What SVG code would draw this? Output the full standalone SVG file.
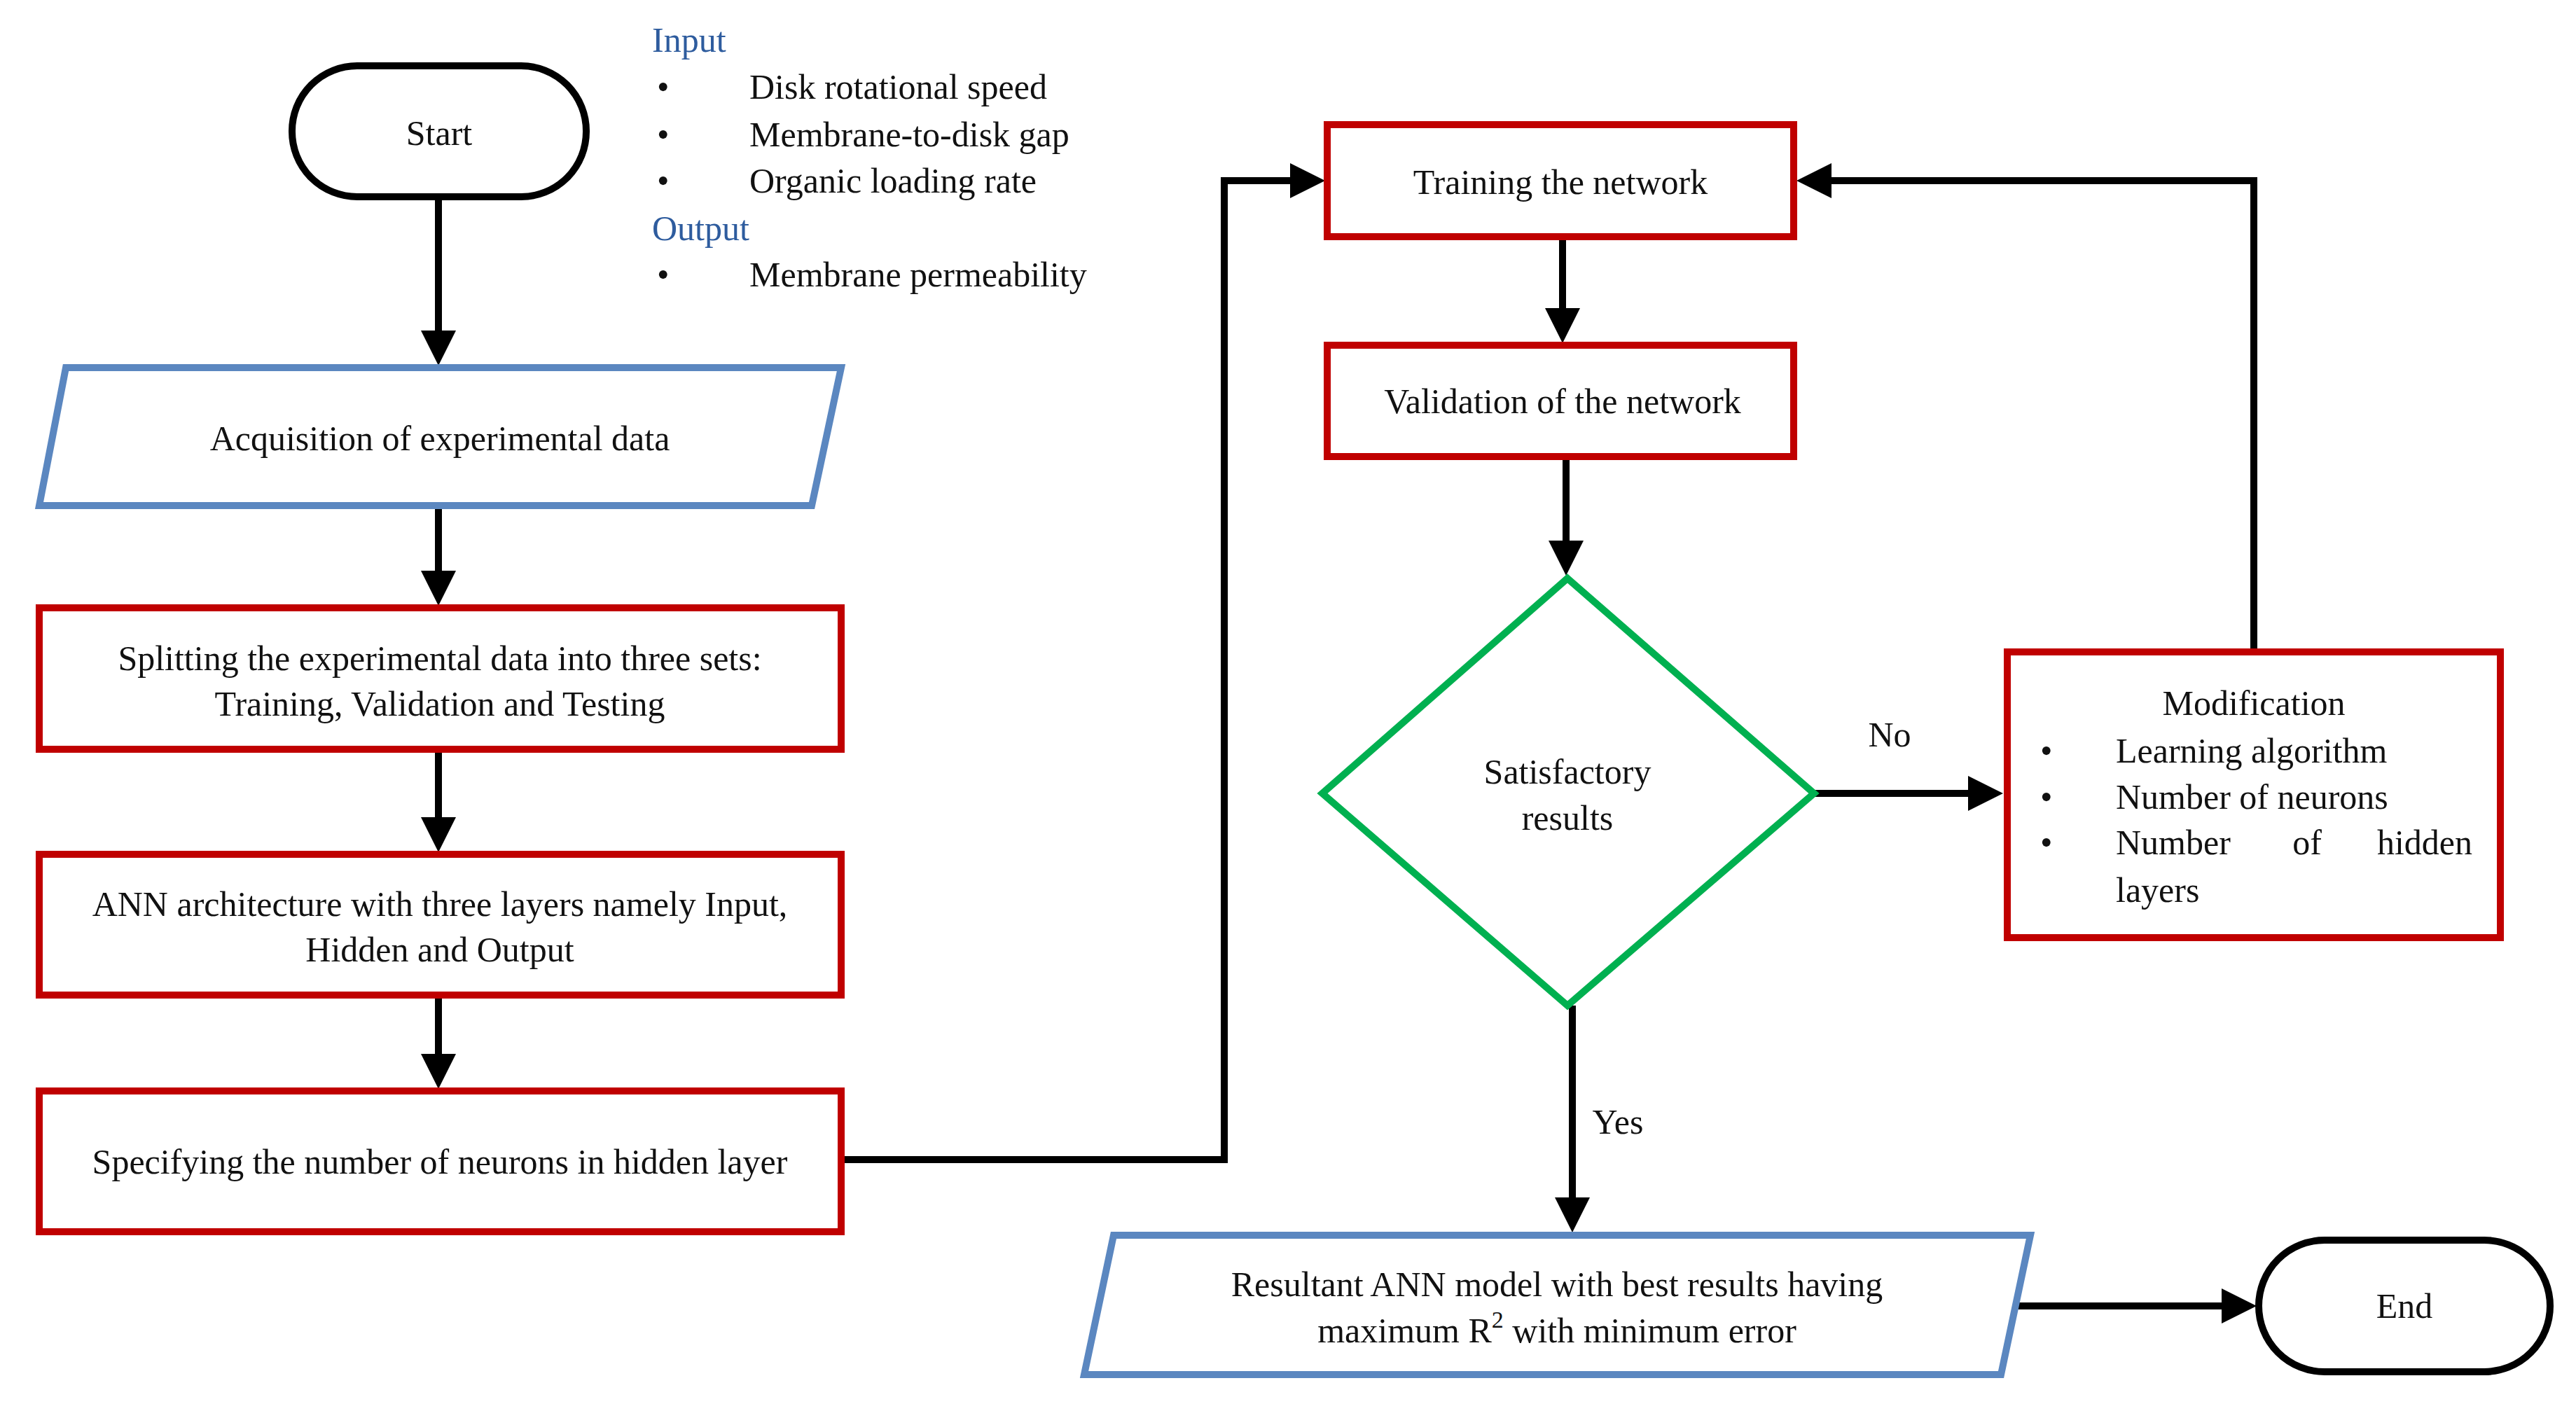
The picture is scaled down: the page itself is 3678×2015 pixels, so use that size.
<svg xmlns="http://www.w3.org/2000/svg" width="3678" height="2015" viewBox="0 0 3678 2015">
<style>
text{font-family:"Liberation Serif","Times New Roman",serif;font-size:50px;fill:#111;dominant-baseline:central}
.c{text-anchor:middle}
.lbl{fill:#2E5C9E}
.red{fill:#fff;stroke:#C00000;stroke-width:10}
.blue{fill:#fff;stroke:#5B87C0;stroke-width:10}
.term{fill:#fff;stroke:#000;stroke-width:10}
.grn{fill:#fff;stroke:#00B050;stroke-width:10}
.ln{fill:none;stroke:#000;stroke-width:10}
</style>
<defs>
<marker id="ah" markerWidth="5" markerHeight="5" refX="4" refY="2.5" orient="auto" markerUnits="strokeWidth">
<path d="M0,0 L5,2.5 L0,5 z" fill="#000"/>
</marker>
</defs>
<g id="connectors">
<path class="ln" d="M626,281 V512" marker-end="url(#ah)"/>
<path class="ln" d="M626,722 V855" marker-end="url(#ah)"/>
<path class="ln" d="M626,1070 V1207" marker-end="url(#ah)"/>
<path class="ln" d="M626,1421 V1545" marker-end="url(#ah)"/>
<path class="ln" d="M1201,1656 H1748 V258 H1882" marker-end="url(#ah)"/>
<path class="ln" d="M2231,338 V480" marker-end="url(#ah)"/>
<path class="ln" d="M2236,652 V812" marker-end="url(#ah)"/>
<path class="ln" d="M2590,1133 H2850" marker-end="url(#ah)"/>
<path class="ln" d="M3218,931 V258 H2575" marker-end="url(#ah)"/>
<path class="ln" d="M2245,1436 V1750" marker-end="url(#ah)"/>
<path class="ln" d="M2881,1865 H3212" marker-end="url(#ah)"/>
<text x="2698" y="1049" class="c">No</text>
<text x="2310" y="1602" class="c">Yes</text>
</g>
<g id="io-list">
<text x="931" y="57" class="lbl">Input</text>
<text x="938" y="124">•</text><text x="1070" y="124">Disk rotational speed</text>
<text x="938" y="192">•</text><text x="1070" y="192">Membrane-to-disk gap</text>
<text x="938" y="258">•</text><text x="1070" y="258">Organic loading rate</text>
<text x="931" y="326" class="lbl">Output</text>
<text x="938" y="392">•</text><text x="1070" y="392">Membrane permeability</text>
</g>
<g id="start"><rect class="term" x="417" y="94" width="420" height="187" rx="93"/><text x="627" y="190" class="c">Start</text></g>
<g id="acquisition"><polygon class="blue" points="94,525 1201,525 1159,722 56,722"/><text x="628" y="626" class="c">Acquisition of experimental data</text></g>
<g id="splitting"><rect class="red" x="56" y="868" width="1145" height="202"/><text x="628" y="940" class="c">Splitting the experimental data into three sets:</text><text x="628" y="1005" class="c">Training, Validation and Testing</text></g>
<g id="ann"><rect class="red" x="56" y="1220" width="1145" height="201"/><text x="628" y="1291" class="c">ANN architecture with three layers namely  Input,</text><text x="628" y="1356" class="c">Hidden and Output</text></g>
<g id="specifying"><rect class="red" x="56" y="1558" width="1145" height="201"/><text x="628" y="1659" class="c">Specifying the number of neurons in hidden layer</text></g>
<g id="training"><rect class="red" x="1895" y="178" width="666" height="160"/><text x="2228" y="260" class="c">Training the network</text></g>
<g id="validation"><rect class="red" x="1895" y="493" width="666" height="159"/><text x="2231" y="573" class="c">Validation of the network</text></g>
<g id="decision"><polygon class="grn" points="2238,826 2590,1133 2238,1436 1888,1133"/><text x="2238" y="1102" class="c">Satisfactory</text><text x="2238" y="1168" class="c">results</text></g>
<g id="modification"><rect class="red" x="2866" y="931" width="704" height="408"/>
<text x="3218" y="1004" class="c">Modification</text>
<text x="2913" y="1072">•</text><text x="3021" y="1072">Learning algorithm</text>
<text x="2913" y="1138">•</text><text x="3021" y="1138">Number of neurons</text>
<text x="2913" y="1203">•</text><text x="3021" y="1203">Number</text><text x="3294" y="1203" class="c">of</text><text x="3530" y="1203" text-anchor="end">hidden</text>
<text x="3021" y="1271">layers</text></g>
<g id="resultant"><polygon class="blue" points="1590,1764 2899,1764 2857,1963 1548,1963"/><text x="2223" y="1834" class="c">Resultant ANN model with best results having</text><text x="2223" y="1900" class="c">maximum R<tspan dy="-16" font-size="34">2</tspan><tspan dy="16"> with minimum error</tspan></text></g>
<g id="end"><rect class="term" x="3225" y="1771" width="416" height="188" rx="94"/><text x="3433" y="1865" class="c">End</text></g>
</svg>
